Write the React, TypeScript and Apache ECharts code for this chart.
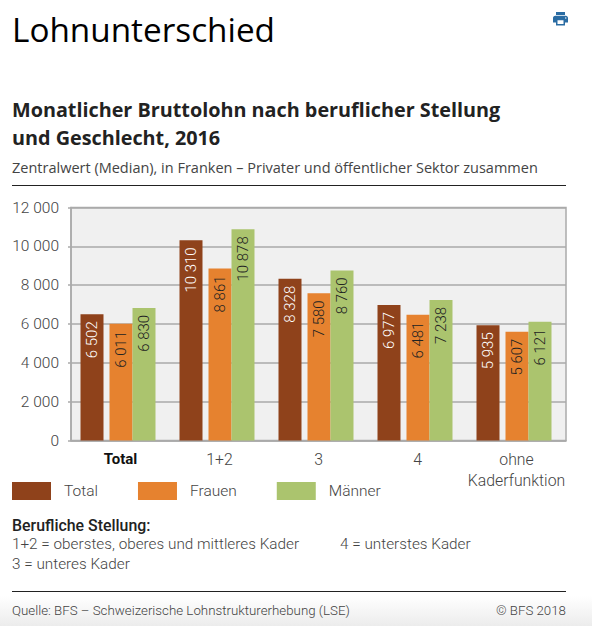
import React, { useEffect, useRef } from "react";
import * as echarts from "echarts";

const categories = ["Total", "1+2", "3", "4", "ohne\nKaderfunktion"];
const totalValues = [6502, 10310, 8328, 6977, 5935];
const frauenValues = [6011, 8861, 7580, 6481, 5607];
const maennerValues = [6830, 10878, 8760, 7238, 6121];

const BROWN = "#8f421b";
const ORANGE = "#e6822f";
const GREEN = "#abc46e";
const FONT = "'Roboto Light', Roboto";
const HEAD = "'Open Sans'";
const INK = "#444444";

const fmt = (v: number) => String(v).replace(/\B(?=(\d{3})+$)/g, " ");

const printerPath =
  "M19 8H5c-1.66 0-3 1.34-3 3v6h4v4h12v-4h4v-6c0-1.66-1.34-3-3-3zm-3 11H8v-5h8v5zm3-7c-.55 0-1-.45-1-1s.45-1 1-1 1 .45 1 1-.45 1-1 1zm-1-9H6v4h12V3z";

function barSeries(name: string, data: number[], color: string, labelColor: string) {
  return {
    name,
    type: "bar",
    data,
    barWidth: 23,
    barGap: 0,
    itemStyle: { color },
    label: {
      show: true,
      position: "insideTop",
      distance: 7,
      rotate: 90,
      align: "right",
      verticalAlign: "middle",
      color: labelColor,
      fontFamily: FONT,
      fontWeight: 300,
      fontSize: 15,
      formatter: (p: any) => fmt(p.value),
    },
  };
}

// Empty series that only reserve room inside each category's bar group.
function spacer(width: number) {
  return { type: "bar", name: "", data: [], barWidth: width, barGap: 0, silent: true };
}

function txt(text: string, x: number, y: number, size: number, extra: any = {}) {
  return {
    type: "text",
    x,
    y,
    silent: true,
    style: {
      text,
      fontSize: size,
      fontFamily: FONT,
      fontWeight: 300,
      fill: INK,
      verticalAlign: "middle",
      ...extra,
    },
  };
}

export default function App() {
  const ref = useRef<HTMLDivElement>(null);
  useEffect(() => {
    echarts.graphic.registerShape("printer", echarts.graphic.extendPath(printerPath as any, {}) as any);
    const chart = echarts.init(ref.current!, undefined, { renderer: "svg" });
    chart.setOption({
      animation: false,
      backgroundColor: "#ffffff",
      grid: {
        left: 71,
        top: 207.5,
        width: 495,
        height: 233,
        show: true,
        backgroundColor: "#f0f0f0",
        borderColor: "#aaaaaa",
        borderWidth: 1.5,
      },
      legend: {
        left: 12,
        top: 482,
        itemWidth: 39,
        itemHeight: 18,
        itemGap: 40,
        icon: "rect",
        selectedMode: false,
        data: ["Total", "Frauen", "Männer"],
        padding: 0,
        textStyle: {
          fontFamily: FONT,
          fontWeight: 300,
          fontSize: 15.5,
          color: INK,
          padding: [0, 0, 0, 8],
        },
      },
      xAxis: {
        type: "category",
        data: categories.map((c, i) =>
          i === 0
            ? { value: c, textStyle: { fontFamily: "Roboto", fontWeight: "bold", fontSize: 15, color: "#111" } }
            : c
        ),
        axisTick: { show: false },
        axisLine: { lineStyle: { color: "#aaaaaa", width: 1.5 } },
        axisLabel: {
          interval: 0,
          margin: 8,
          fontFamily: FONT,
          fontWeight: 300,
          fontSize: 15.8,
          lineHeight: 21,
          color: INK,
        },
      },
      yAxis: {
        type: "value",
        min: 0,
        max: 12000,
        interval: 2000,
        axisLine: { show: true, lineStyle: { color: "#aaaaaa", width: 1.5 } },
        axisTick: { show: true, length: 3, lineStyle: { color: "#aaaaaa", width: 1.5 } },
        splitLine: { show: true, lineStyle: { color: "#aaaaaa", width: 1.5 } },
        axisLabel: {
          margin: 12,
          fontFamily: FONT,
          fontWeight: 300,
          fontSize: 15.5,
          color: INK,
          formatter: (v: number) => fmt(v),
        },
      },
      series: [
        barSeries("Total", totalValues, BROWN, "#ffffff"),
        spacer(6),
        barSeries("Frauen", frauenValues, ORANGE, "#222222"),
        barSeries("Männer", maennerValues, GREEN, "#222222"),
        spacer(5),
      ],
      graphic: [
        {
          type: "rect",
          silent: true,
          z: -1,
          shape: { x: 0, y: 596, width: 592, height: 30 },
          style: {
            fill: new echarts.graphic.LinearGradient(0, 0, 0, 1, [
              { offset: 0, color: "#ffffff" },
              { offset: 1, color: "#ececec" },
            ]),
          },
        },
        txt("Lohnunterschied", 12, 28.5, 33.3, { fontFamily: HEAD, fontWeight: 400, fill: "#000" }),
        {
          type: "printer",
          x: 551.5,
          y: 9.75,
          scaleX: 0.75,
          scaleY: 0.75,
          silent: true,
          style: { fill: "#2a6ca3" },
        },
        txt("Monatlicher Bruttolohn nach beruflicher Stellung", 12, 109, 19.8, {
          fontFamily: HEAD,
          fontWeight: "bold",
          fill: "#222",
        }),
        txt("und Geschlecht, 2016", 12, 137, 19.8, {
          fontFamily: HEAD,
          fontWeight: "bold",
          fill: "#222",
        }),
        txt("Zentralwert (Median), in Franken – Privater und öffentlicher Sektor zusammen", 12, 167, 14.5, {
          fontFamily: HEAD,
          fontWeight: 400,
          fill: "#444",
        }),
        { type: "line", silent: true, shape: { x1: 12, y1: 185.5, x2: 566, y2: 185.5 }, style: { stroke: "#222", lineWidth: 1 } },
        txt("Berufliche Stellung:", 12, 525, 15.9, { fontFamily: "Roboto", fontWeight: 500, fill: "#222" }),
        txt("1+2 = oberstes, oberes und mittleres Kader", 12, 544, 15.3),
        txt("4 = unterstes Kader", 340, 544, 15.3),
        txt("3 = unteres Kader", 12, 564, 15.3),
        { type: "line", silent: true, shape: { x1: 12, y1: 591.5, x2: 566, y2: 591.5 }, style: { stroke: "#222", lineWidth: 1 } },
        txt("Quelle: BFS – Schweizerische Lohnstrukturerhebung (LSE)", 12, 610, 13.3),
        txt("© BFS 2018", 566, 610, 13.3, { align: "right" }),
      ],
    });
    return () => chart.dispose();
  }, []);
  return <div ref={ref} style={{ position: "fixed", left: 0, top: 0, width: 592, height: 626 }} />;
}
